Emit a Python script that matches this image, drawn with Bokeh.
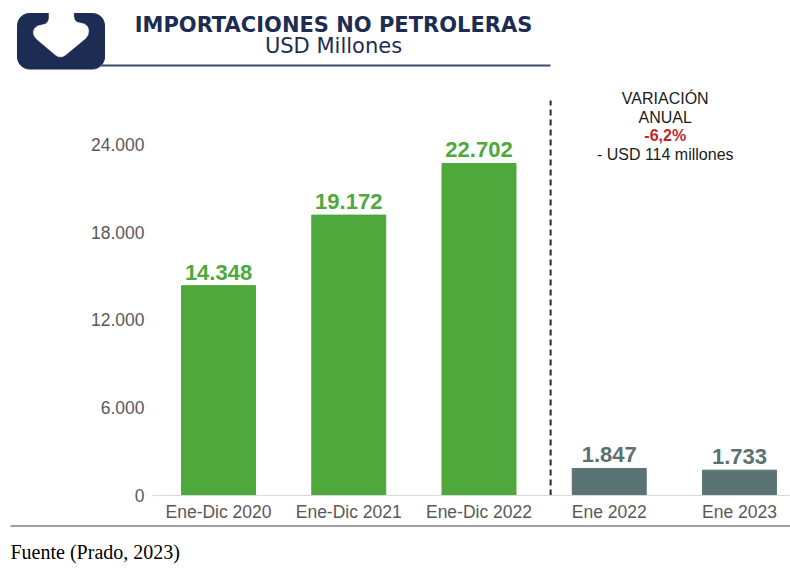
import numpy as np
from bokeh.plotting import figure
from bokeh.models import ColumnDataSource, LabelSet, Label, FixedTicker, Range1d
from bokeh.layouts import column
from bokeh.embed import file_html
from bokeh.resources import INLINE
from bokeh.core.properties import value

# ---------------- data ----------------
categories = ["Ene-Dic 2020", "Ene-Dic 2021", "Ene-Dic 2022", "Ene 2022", "Ene 2023"]
values = [14348, 19172, 22702, 1847, 1733]
value_labels = ["14.348", "19.172", "22.702", "1.847", "1.733"]
y_ticks = [0, 6000, 12000, 18000, 24000]
y_tick_labels = ["0", "6.000", "12.000", "18.000", "24.000"]
title = "IMPORTACIONES NO PETROLERAS"
subtitle = "USD Millones"
variation_lines = ["VARIACIÓN", "ANUAL", "-6,2%", "- USD 114 millones"]
source_note = "Fuente (Prado, 2023)"

GREEN = "#4ea83c"
SLATE = "#5b7373"
NAVY = "#1d2c52"
bar_colors = [GREEN, GREEN, GREEN, SLATE, SLATE]
label_colors = [GREEN, GREEN, GREEN, "#5b7070", "#5b7070"]

W = 790

# ---------------- header ----------------
hdr = figure(width=W, height=80, x_range=Range1d(0, W), y_range=Range1d(80, 0),
             toolbar_location=None, output_backend="svg", x_axis_type=None, y_axis_type=None,
             min_border=0, outline_line_color=None, frame_align=False)
hdr.grid.visible = False


def rounded(x0, y0, x1, y1, r, n=10):
    xs, ys = [], []
    for cx, cy, a0 in [(x1 - r, y0 + r, -90), (x1 - r, y1 - r, 0), (x0 + r, y1 - r, 90), (x0 + r, y0 + r, 180)]:
        for t in np.linspace(a0, a0 + 90, n):
            xs.append(cx + r * np.cos(np.radians(t)))
            ys.append(cy + r * np.sin(np.radians(t)))
    return xs, ys


lx, ly = rounded(17, 13, 104, 68.5, 12)
hdr.patch(lx, ly, fill_color=NAVY, line_color=NAVY)
cut_x = [48.5, 48.5, 47.5, 45, 41, 37, 34, 32.7, 33.5, 36, 55, 58, 62, 65, 85, 87.5, 88.3, 87, 84, 80, 76, 74, 73.3, 73.3]
cut_y = [12, 18, 21, 23.5, 24.5, 25.5, 28, 31.5, 35, 38.5, 54.5, 56.3, 56.3, 54.5, 38, 34.5, 30, 26, 23.5, 22.5, 21.5, 19, 16, 12]
hdr.patch(cut_x, cut_y, fill_color="white", line_color="white", line_width=0.5)
hdr.line([100, 550], [65, 65], line_color="#3b4a6e", line_width=2)
hdr.add_layout(Label(x=333, y=24, text=title, text_align="center", text_baseline="alphabetic",
                     text_font="DejaVu Sans", text_font_style="bold", text_font_size="21px",
                     text_color=NAVY))
hdr.add_layout(Label(x=333, y=45.5, text=subtitle, text_align="center", text_baseline="alphabetic",
                     text_font="DejaVu Sans", text_font_size="21px", text_color=NAVY))

# ---------------- chart ----------------
p = figure(width=W, height=444, x_range=Range1d(-0.507, 4.392), y_range=Range1d(0, 28376),
           toolbar_location=None, output_backend="svg",
           min_border_left=152, min_border_right=0, min_border_top=0, min_border_bottom=29,
           outline_line_color=None, frame_align=False)
p.grid.visible = False

xs = list(range(len(categories)))
src = ColumnDataSource(dict(x=xs, top=values, color=bar_colors, lab=value_labels, lcol=label_colors))
p.vbar(x="x", top="top", bottom=0, width=0.568, fill_color="color", line_color="color", source=src)
p.add_layout(LabelSet(x="x", y="top", text="lab", source=src, text_align="center",
                      text_baseline="alphabetic", y_offset=6, text_color="lcol",
                      text_font=value("Liberation Sans"), text_font_style="bold",
                      text_font_size="22px"))

p.xaxis.ticker = FixedTicker(ticks=xs)
p.xaxis.major_label_overrides = {i: c for i, c in zip(xs, categories)}
p.xaxis.axis_line_color = "#d9d9d9"
p.xaxis.major_tick_line_color = None
p.xaxis.minor_tick_line_color = None
p.xaxis.major_label_standoff = 0
p.yaxis.ticker = FixedTicker(ticks=y_ticks)
p.yaxis.major_label_overrides = {t: s for t, s in zip(y_ticks, y_tick_labels)}
p.yaxis.axis_line_color = None
p.yaxis.major_tick_line_color = None
p.yaxis.minor_tick_line_color = None
p.yaxis.major_label_standoff = 2
for ax in (p.xaxis, p.yaxis):
    ax.major_label_text_font = "Liberation Sans"
    ax.major_label_text_font_size = "17.5px"
    ax.major_label_text_color = "#595959"


def yd(py):
    # page pixel -> data value for annotation placement
    return (495 - py) * 24000 / 351


p.segment(x0=[2.55], y0=[0], x1=[2.55], y1=[yd(100)], line_dash="6 4", line_width=2,
          line_color="#262626")
for txt, base in zip(variation_lines, [98.5, 117.5, 135.5, 154.5]):
    red = txt.startswith("-6")
    p.add_layout(Label(x=3.43, y=yd(base), text=txt, text_align="center", text_baseline="alphabetic",
                       text_font="Liberation Sans", text_font_size="16px",
                       text_font_style="bold" if red else "normal",
                       text_color="#c0272d" if red else "#1a1a1a"))

# ---------------- footer ----------------
ftr = figure(width=W, height=44, x_range=Range1d(0, W), y_range=Range1d(568, 524),
             toolbar_location=None, output_backend="svg", x_axis_type=None, y_axis_type=None,
             min_border=0, outline_line_color=None, frame_align=False)
ftr.grid.visible = False
ftr.line([10, W], [525.5, 525.5], line_color="#808080", line_width=1.5)
ftr.add_layout(Label(x=10, y=551, text=source_note, text_align="left", text_baseline="alphabetic",
                     text_font="Liberation Serif", text_font_size="20px", text_color="#000000"))

layout = column(hdr, p, ftr, spacing=0)
open("out.html", "w").write(file_html(layout, INLINE))
